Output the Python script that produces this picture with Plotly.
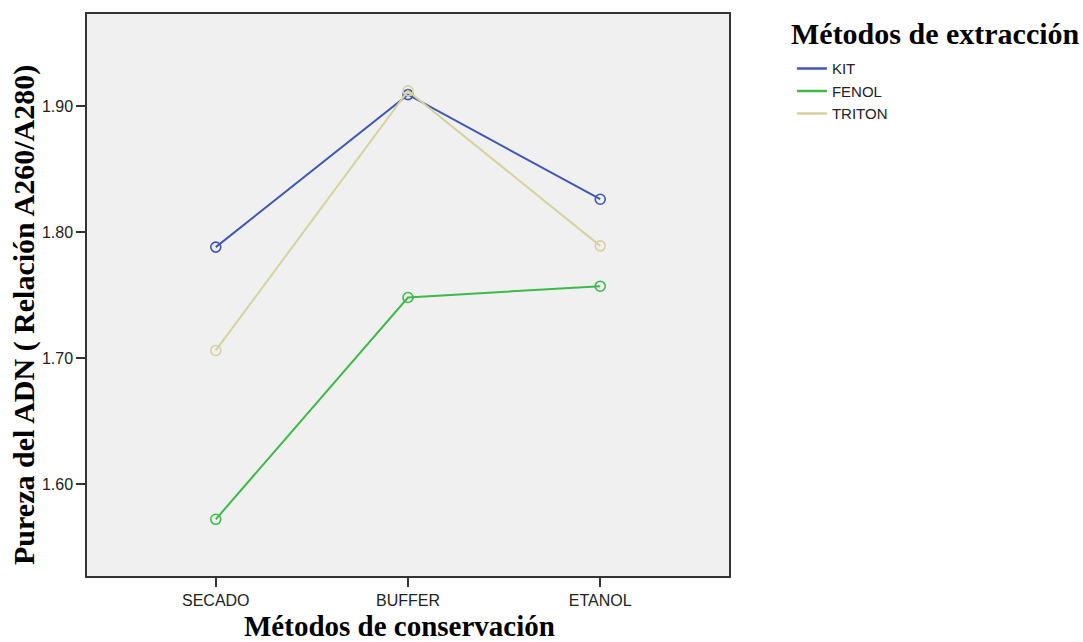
import plotly.graph_objects as go

categories = ["SECADO", "BUFFER", "ETANOL"]
kit = [1.788, 1.909, 1.826]
fenol = [1.572, 1.748, 1.757]
triton = [1.706, 1.912, 1.789]
y_ticks = [1.60, 1.70, 1.80, 1.90]

series = [("KIT", kit, "#4058B4"), ("FENOL", fenol, "#3EB94A"), ("TRITON", triton, "#D6D29E")]

fig = go.Figure()
for name, vals, col in series:
    fig.add_trace(go.Scatter(
        x=[0, 1, 2], y=vals, name=name, mode="lines+markers", showlegend=False,
        line=dict(color=col, width=2),
        marker=dict(symbol="circle-open", size=10, color=col, line=dict(width=1.6, color=col)),
    ))
for name, vals, col in series:
    fig.add_trace(go.Scatter(
        x=[None], y=[None], name=name, mode="lines", showlegend=True,
        line=dict(color=col, width=2.5),
    ))

serif = "Liberation Serif, Times New Roman, serif"
fig.update_layout(
    width=1083, height=642,
    margin=dict(l=87, r=354, t=14, b=66, autoexpand=False),
    paper_bgcolor="white", plot_bgcolor="#F0F0F0",
    font=dict(family="Liberation Sans, Arial, sans-serif", size=15, color="#222"),
    showlegend=True,
    legend=dict(x=1.098, y=0.932, xanchor="left", yanchor="top",
                font=dict(size=15, family="Liberation Sans, Arial, sans-serif", color="#222"),
                tracegroupgap=0, itemwidth=30, bgcolor="rgba(0,0,0,0)"),
    xaxis=dict(range=[-0.67, 2.67], tickmode="array", tickvals=[0, 1, 2], ticktext=categories,
               showgrid=False, zeroline=False, showline=True, linecolor="#333", linewidth=1.5,
               mirror=True, ticks="outside", ticklen=9, tickcolor="#333", tickwidth=1.5,
               tickfont=dict(size=16, color="#222")),
    yaxis=dict(range=[1.527, 1.973], tickmode="array", tickvals=y_ticks,
               ticktext=[f"{v:.2f}" for v in y_ticks],
               showgrid=False, zeroline=False, showline=True, linecolor="#333", linewidth=1.5,
               mirror=True, ticks="outside", ticklen=9, tickcolor="#333", tickwidth=1.5,
               tickfont=dict(size=16, color="#222")),
    annotations=[
        dict(text="<b>Pureza del ADN ( Relación A260/A280)</b>", xref="paper", yref="paper",
             x=-0.097, y=0.464, textangle=-90, showarrow=False,
             font=dict(family=serif, size=30, color="black"), xanchor="center", yanchor="middle"),
        dict(text="<b>Métodos de conservación</b>", xref="paper", yref="paper",
             x=0.4875, y=-0.089, showarrow=False,
             font=dict(family=serif, size=29, color="black"), xanchor="center", yanchor="middle"),
        dict(text="<b>Métodos de extracción</b>", xref="paper", yref="paper",
             x=1.093, y=1.0, showarrow=False, xanchor="left", yanchor="middle",
             font=dict(family=serif, size=30, color="black"), yshift=-19),
    ],
)

fig.write_html("out.html", config={"displayModeBar": False},
               post_script="document.body.style.margin='0';document.body.style.padding='0';document.body.style.overflow='hidden';")
